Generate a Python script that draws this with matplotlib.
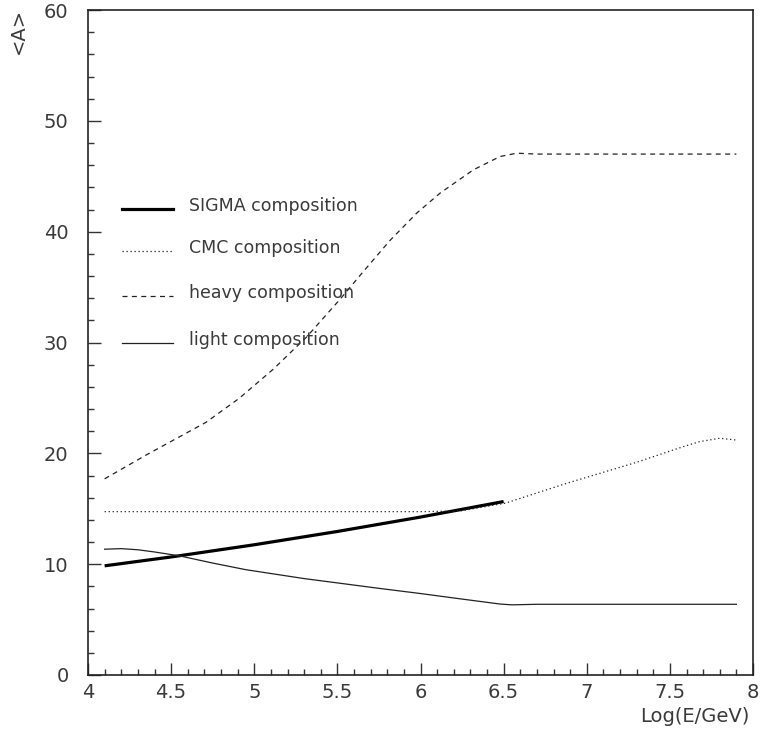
import matplotlib
matplotlib.use("Agg")
import matplotlib.pyplot as plt
from matplotlib.ticker import MultipleLocator

# mean mass number vs log energy
heavy_x = [4.1, 4.35, 4.71, 4.91, 5.115, 5.315, 5.516, 5.656, 5.816, 5.977, 6.117, 6.318, 6.478, 6.579, 6.7, 7.9]
heavy_y = [17.7, 19.85, 22.8, 24.97, 27.6, 30.5, 33.9, 36.4, 39.2, 41.67, 43.47, 45.58, 46.78, 47.08, 47.0, 47.0]

cmc_x = [4.1, 5.0, 6.0, 6.24, 6.51, 6.88, 7.28, 7.58, 7.68, 7.8, 7.9]
cmc_y = [14.74, 14.74, 14.74, 14.8, 15.5, 17.3, 19.1, 20.6, 21.06, 21.36, 21.2]

sigma_x = [4.1, 4.5, 5.0, 5.5, 6.0, 6.5]
sigma_y = [9.85, 10.65, 11.75, 12.95, 14.25, 15.65]

light_x = [4.1, 4.2, 4.3, 4.4, 4.55, 4.75, 4.95, 5.3, 5.76, 6.0, 6.25, 6.48, 6.55, 6.7, 7.9]
light_y = [11.35, 11.4, 11.3, 11.1, 10.75, 10.1, 9.5, 8.7, 7.8, 7.35, 6.85, 6.4, 6.33, 6.38, 6.38]

labels = ["SIGMA composition", "CMC composition", "heavy composition", "light composition"]
legend_y = [42.06, 38.27, 34.2, 29.96]

txt = "#3a3a3a"
fig = plt.figure(figsize=(7.6, 7.36), dpi=100)
ax = fig.add_axes([88/760, 61/736, 665/760, 665/736])

dotted = (0, (1, 2.2))
dashed = (0, (4, 3.5))
ax.plot(sigma_x, sigma_y, c="black", lw=2.3, solid_capstyle="butt")
ax.plot(cmc_x, cmc_y, c="#222222", lw=0.9, ls=dotted)
ax.plot(heavy_x, heavy_y, c="#222222", lw=0.9, ls=dashed)
ax.plot(light_x, light_y, c="#222222", lw=0.9)

# legend drawn by hand, like the original
styles = [dict(c="black", lw=2.3), dict(c="#222222", lw=0.9, ls=dotted),
          dict(c="#222222", lw=0.9, ls=dashed), dict(c="#222222", lw=0.9)]
for lab, yy, st in zip(labels, legend_y, styles):
    ax.plot([4.205, 4.51], [yy, yy], **st)
    ax.text(4.607, yy + 0.3, lab, fontsize=12.5, color=txt, va="center", ha="left")

ax.set_xlim(4, 8)
ax.set_ylim(0, 60)
ax.xaxis.set_minor_locator(MultipleLocator(0.1))
ax.yaxis.set_major_locator(MultipleLocator(10))
ax.yaxis.set_minor_locator(MultipleLocator(2))
ax.set_xticks([4, 4.5, 5, 5.5, 6, 6.5, 7, 7.5, 8])
ax.set_xticklabels(["4", "4.5", "5", "5.5", "6", "6.5", "7", "7.5", "8"])
ax.tick_params(which="both", direction="in", top=False, right=False, color="#333333", width=1.0,
               labelcolor=txt, labelsize=14)
ax.tick_params(which="major", length=9)
ax.tick_params(which="minor", length=4.5)
ax.tick_params(axis="y", which="major", pad=14)
ax.tick_params(axis="x", which="major", pad=6)
for s in ax.spines.values():
    s.set_linewidth(1.2)
    s.set_color("#222222")

fig.text(18/760, 1 - 8/736, "<A>", rotation=90, ha="center", va="top", fontsize=14, color=txt)
fig.text(750/760, 1 - 717/736, "Log(E/GeV)", ha="right", va="center", fontsize=14, color=txt)

fig.savefig("out.png", dpi=100)
